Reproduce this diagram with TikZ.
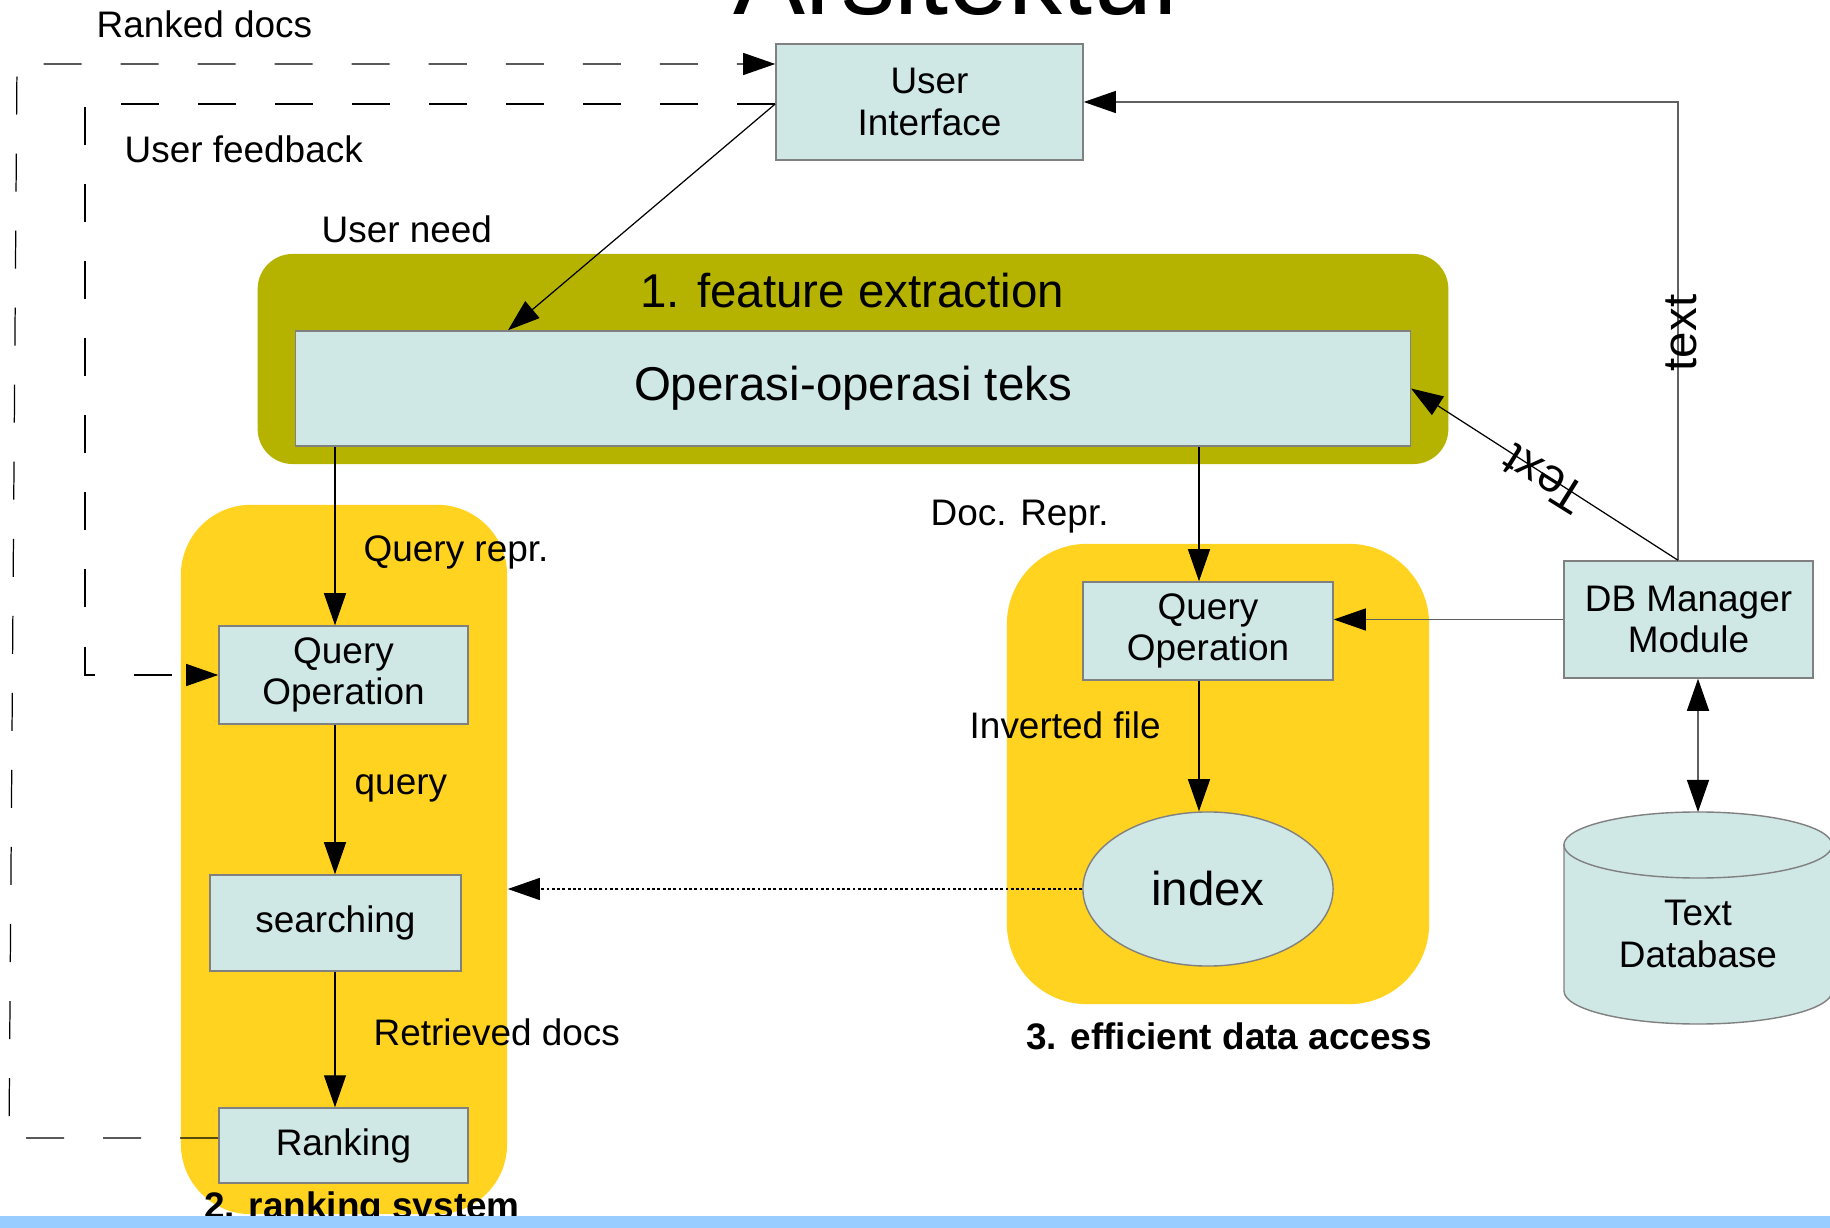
\documentclass[tikz,border=0pt]{standalone}
\usepackage{fontspec}
\setmainfont{Liberation Sans}
\usetikzlibrary{arrows.meta,shapes.geometric,calc}
\definecolor{olivebg}{RGB}{181,179,0}
\definecolor{yellowbg}{RGB}{255,211,32}
\definecolor{boxfill}{RGB}{207,231,229}
\definecolor{boxline}{RGB}{128,128,128}
\definecolor{linegrey}{RGB}{96,96,96}
\definecolor{barblue}{RGB}{153,204,255}
\begin{document}
\begin{tikzpicture}[x=0.01cm,y=-0.01cm,
  sm/.style={font=\fontsize{10.5}{11.9}\selectfont},
  lg/.style={font=\fontsize{13.5}{15}\selectfont},
  boldlbl/.style={font=\fontsize{10.5}{12}\selectfont\bfseries, inner sep=0pt},
  box/.style={draw=boxline, fill=boxfill, line width=0.4pt, rectangle, align=center, inner sep=0pt, sm},
  tipa/.tip={Triangle[length=0.32cm,width=0.22cm,black]},
  arr/.style={-tipa, line width=0.35pt},
  dashline/.style={dash pattern=on 0.38cm off 0.39cm, line width=0.4pt},
  dotline/.style={dash pattern=on 0.8pt off 0.7pt, line width=0.35pt},
  lbl/.style={sm, anchor=west, inner sep=0pt}
]
\useasboundingbox (0,0) rectangle (1830,1228);

% title (mostly above the page)
\node[anchor=base, font=\fontsize{30.7}{36}\selectfont, inner sep=0pt] (title) at (961,15) {Arsitektur};

% background groups
\node[fill=olivebg, rounded corners=0.35cm, minimum width=11.9cm, minimum height=2.1cm, inner sep=0pt] (fe) at (853,359) {};
\node[fill=yellowbg, rounded corners=0.7cm, minimum width=3.26cm, minimum height=7.09cm, inner sep=0pt] (rs) at (344,859.5) {};
\node[fill=yellowbg, rounded corners=0.8cm, minimum width=4.22cm, minimum height=4.6cm, inner sep=0pt] (eda) at (1218,774) {};

\node[lg] (fetitle) at (852,291) {1. feature extraction};

% boxes
\node[box, minimum width=3.07cm, minimum height=1.16cm] (ui) at (929.5,102) {User\\Interface};
\node[box, lg, minimum width=11.14cm, minimum height=1.15cm] (ops) at (853,388.5) {Operasi-operasi teks};
\node[box, minimum width=2.49cm, minimum height=0.98cm] (qoL) at (343.5,675) {Query\\Operation};
\node[box, minimum width=2.51cm, minimum height=0.96cm] (srch) at (335.5,923) {searching};
\node[box, minimum width=2.49cm, minimum height=0.75cm] (rank) at (343.5,1145.5) {Ranking};
\node[box, minimum width=2.5cm, minimum height=0.98cm] (qoR) at (1208,631) {Query\\Operation};
\node[box, ellipse, lg, minimum width=2.5cm, minimum height=1.54cm] (idx) at (1208,889) {index};
\node[box, minimum width=2.49cm, minimum height=1.17cm] (dbm) at (1688.5,619.5) {DB Manager\\Module};

% text database cylinder
\filldraw[fill=boxfill, draw=boxline, line width=0.4pt]
  (1564,845) -- (1564,991) arc[start angle=180, end angle=360, x radius=1.34cm, y radius=0.33cm]
  -- (1832,845) arc[start angle=0, end angle=180, x radius=1.34cm, y radius=0.33cm] -- cycle;
\draw[draw=boxline, line width=0.4pt] (1564,845) arc[start angle=180, end angle=360, x radius=1.34cm, y radius=0.33cm];
\node[sm, align=center] (tdb) at (1698,934) {Text\\Database};
\coordinate (tdbtop) at (1698,812);

% helper coordinates
\coordinate (xL) at (335,0);
\coordinate (xR) at (1199,0);
\coordinate (xT) at (1678,0);
\coordinate (oc1) at (9,1138);
\coordinate (oc2) at (17,64);
\coordinate (ic1) at (85,104);
\coordinate (opsin) at (508,331);

% dashed feedback loops
\draw[dashline, arr] (rank.west |- oc1) -- (oc1) -- (oc2) -- (oc2 -| ui.west);
\draw[dashline, arr] (ui.west |- ic1) -- (ic1) -- (ic1 |- qoL.west) -- (qoL.west);

% solid connectors
\draw[arr] (ui.west |- ic1) -- (opsin |- ops.north);
\draw[arr] (ops.south -| xL) -- (qoL.north -| xL);
\draw[arr] (qoL.south -| xL) -- (srch.north -| xL);
\draw[arr] (srch.south -| xL) -- (rank.north -| xL);
\draw[arr] (ops.south -| xR) -- (qoR.north -| xR);
\draw[arr] (qoR.south -| xR) -- (idx.north -| xR);
\draw[arr, dotline] (idx.west) -- (rs.east |- idx.west);
\draw[arr, draw=linegrey] (dbm.west) -- (dbm.west -| qoR.east);
\draw[arr, draw=linegrey] (dbm.north -| xT) -- (xT |- ui.east) -- (ui.east);
\draw[arr] (dbm.north -| xT) -- (ops.east);
\draw[tipa-tipa, line width=0.35pt, draw=linegrey] (dbm.south -| tdbtop) -- (tdbtop);

% labels
\node[lbl] (lrd) at (96,24) {Ranked docs};
\node[lbl] (luf) at (124,149) {User feedback};
\node[lbl] (lun) at (321,229) {User need};
\node[lbl] (lqr) at (363,552) {Query repr.};
\node[lbl] (lq) at (354,788) {query};
\node[lbl] (lrt) at (373,1032) {Retrieved docs};
\node[lbl] (ldr) at (930,517) {Doc. Repr.};
\node[lbl] (lif) at (969,725) {Inverted file};
\node[lg, rotate=90, inner sep=0pt] (ltext) at (1681,333) {text};
\node[lg, rotate=148, inner sep=0pt] (lText) at (1544,479) {Text};
\node[boldlbl] (lrs) at (362,1209) {2. ranking system};
\node[boldlbl] (leda) at (1229,1036) {3. efficient data access};

% bottom bar
\fill[barblue] (0,1216) rectangle (1830,1228);
\end{tikzpicture}
\end{document}
